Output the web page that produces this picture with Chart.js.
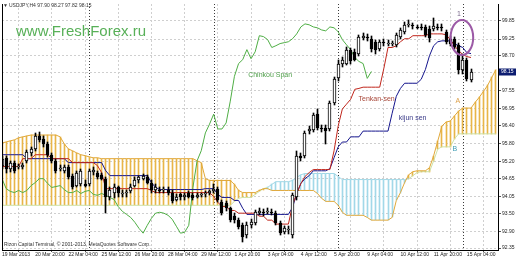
<!DOCTYPE html>
<html><head><meta charset="utf-8">
<script src="https://cdn.jsdelivr.net/npm/chart.js@4/dist/chart.umd.min.js"></script>
<style>html,body{margin:0;padding:0;background:#fff}#wrap{width:520px;height:260px}</style>
</head><body><div id="wrap"><canvas id="c" width="520" height="260"></canvas></div>
<script>
// ---- data (USDJPY, H4) ----
const timeLabels = ["19 Mar 2013","20 Mar 20:00","22 Mar 04:00","25 Mar 12:00","26 Mar 20:00","28 Mar 04:00","29 Mar 12:00","1 Apr 20:00","3 Apr 04:00","4 Apr 12:00","5 Apr 20:00","9 Apr 04:00","10 Apr 12:00","11 Apr 20:00","15 Apr 04:00"];
const timeLabelStep = 8; // bars between time labels
const priceTicks = [99.85,99.25,98.70,98.15,97.55,96.95,96.40,95.80,95.20,94.65,94.05,93.50,92.90,92.35];
const weekSeparators = [21,51,81,111];

const openP = [95.07,95.33,94.97,95.17,95.04,95.04,95.23,95.49,95.62,96.05,
 95.95,95.79,95.43,95.23,94.97,94.90,95.04,94.74,94.41,94.48,
 94.48,94.48,94.87,94.84,94.77,94.64,94.02,94.15,94.35,94.15,
 94.15,94.22,94.41,94.58,94.64,94.71,94.51,94.28,94.28,94.25,
 94.28,94.15,93.95,94.12,94.02,94.15,94.09,94.05,94.09,94.12,
 94.15,94.22,94.31,93.86,93.82,93.66,93.40,93.27,93.10,92.77,
 93.10,93.17,93.50,93.53,93.53,93.53,93.50,93.17,92.87,92.94,
 92.77,94.02,95.40,95.40,96.21,96.25,96.77,96.31,96.31,96.28,
 97.13,97.95,98.41,98.44,98.90,98.83,98.77,99.29,99.33,99.26,
 99.16,98.93,99.16,99.10,99.10,99.06,99.33,99.49,99.72,99.72,
 99.65,99.65,99.65,99.59,99.59,99.65,99.65,99.49,99.26,99.26,
 99.06,98.24,98.57,97.90];
const highP = [95.40,95.40,95.23,95.23,95.13,95.17,95.59,95.69,96.15,96.18,
 96.05,95.85,95.49,95.30,95.10,95.10,95.10,94.81,94.90,94.97,
 94.58,94.97,95.04,94.90,94.84,94.71,94.38,94.45,94.41,94.28,
 94.28,94.48,94.68,94.74,94.81,94.77,94.58,94.45,94.38,94.38,
 94.38,94.25,94.12,94.18,94.15,94.22,94.15,94.15,94.18,94.22,
 94.28,94.45,94.38,93.92,93.89,93.72,93.50,93.33,93.17,93.20,
 93.30,93.59,93.66,93.63,93.66,93.63,93.56,93.23,93.07,93.07,
 94.18,95.56,95.49,96.21,96.38,96.80,96.94,96.41,96.41,97.20,
 97.98,98.57,98.67,99.00,98.97,98.93,99.39,99.46,99.42,99.36,
 99.23,99.23,99.26,99.23,99.19,99.46,99.62,99.82,99.88,99.78,
 99.72,99.75,99.72,99.69,99.95,99.75,99.75,99.55,99.36,99.33,
 99.13,98.77,98.64,98.27];
const lowP = [94.97,94.84,94.87,94.84,94.97,94.97,95.17,95.40,95.56,95.85,
 95.69,95.36,95.17,94.84,94.90,94.84,94.64,94.31,94.35,94.41,
 94.35,94.41,94.77,94.64,94.58,93.50,93.92,93.99,94.05,94.05,
 94.05,94.15,94.35,94.51,94.58,94.45,94.18,94.18,94.15,94.15,
 94.09,93.82,93.89,93.95,93.95,93.99,93.92,93.99,94.02,94.05,
 94.09,94.15,93.86,93.43,93.56,93.20,93.17,92.97,92.55,92.68,
 93.00,93.10,93.43,93.40,93.46,93.43,93.10,92.77,92.81,92.81,
 92.68,93.95,95.23,95.33,96.12,96.18,96.25,96.18,95.79,96.21,
 97.07,97.85,98.31,98.38,98.44,98.51,98.70,99.23,99.19,98.83,
 98.74,98.87,99.03,99.03,99.03,99.00,99.26,99.42,99.65,99.59,
 99.59,99.55,99.33,99.16,99.52,99.55,99.52,99.10,99.03,98.93,
 98.11,98.11,97.85,97.82];
const closeP = [95.30,94.97,95.17,94.90,95.07,95.10,95.53,95.62,96.05,95.92,
 95.79,95.43,95.23,94.90,95.00,95.04,94.71,94.38,94.84,94.90,
 94.41,94.90,94.94,94.71,94.64,94.02,94.25,94.35,94.15,94.18,
 94.19,94.38,94.58,94.68,94.74,94.51,94.25,94.35,94.25,94.31,
 94.15,93.89,94.02,94.02,94.09,94.05,93.99,94.09,94.12,94.15,
 94.22,94.31,93.92,93.50,93.66,93.27,93.27,93.04,92.71,93.10,
 93.20,93.53,93.56,93.50,93.56,93.51,93.17,92.84,93.00,92.97,
 94.09,95.40,95.33,96.15,96.28,96.74,96.31,96.28,96.21,97.13,
 97.92,98.41,98.57,98.90,98.51,98.57,99.33,99.36,99.29,98.93,
 98.90,99.16,99.13,99.12,99.13,99.39,99.55,99.72,99.75,99.69,
 99.63,99.62,99.39,99.29,99.69,99.63,99.62,99.16,99.10,99.00,
 98.24,98.57,97.92,98.15];
const tenkan = [95.04,95.04,95.04,95.04,95.04,95.30,95.30,95.30,95.43,95.43,
 95.43,95.43,95.30,95.30,95.30,95.30,95.30,95.17,95.17,95.17,
 95.17,95.17,95.17,95.07,94.84,94.31,94.31,94.31,94.31,94.31,
 94.31,94.31,94.31,94.31,94.31,94.31,94.25,94.18,94.18,94.18,
 94.18,94.18,94.18,94.18,94.18,94.18,94.18,94.18,94.18,94.18,
 94.18,94.05,93.86,93.72,93.72,93.59,93.59,93.50,93.50,93.50,
 93.50,93.50,93.40,93.40,93.27,93.27,93.14,93.14,93.14,93.14,
 93.76,94.15,94.48,94.71,94.84,94.94,94.94,94.94,94.94,94.94,
 95.56,96.38,96.94,97.10,97.26,97.59,97.62,97.66,97.66,97.66,
 97.66,97.66,98.28,98.97,98.97,99.03,99.16,99.26,99.26,99.36,
 99.36,99.36,99.36,99.42,99.42,99.42,99.42,99.39,99.23,99.03,
 98.87,98.74,98.67,98.64];
const kijun = [95.43,95.43,95.43,95.43,95.43,95.43,95.30,95.30,95.30,95.30,
 95.30,95.30,95.30,95.30,95.30,95.30,95.17,95.17,95.17,95.17,
 95.17,95.17,95.17,95.17,95.17,94.90,94.74,94.74,94.74,94.74,
 94.74,94.74,94.74,94.74,94.74,94.74,94.51,94.35,94.28,94.28,
 94.28,94.28,94.28,94.28,94.28,94.28,94.28,94.28,94.28,94.31,
 94.31,94.31,94.12,94.02,94.02,94.02,93.92,93.92,93.66,93.46,
 93.46,93.46,93.46,93.46,93.46,93.46,93.46,93.46,93.46,93.46,
 93.69,94.15,94.48,94.64,94.74,94.90,94.90,94.90,94.90,94.97,
 95.33,95.69,95.85,95.85,96.02,96.02,96.02,96.21,96.21,96.21,
 96.21,96.21,96.21,96.21,96.80,97.36,97.62,97.79,97.79,97.79,
 97.79,97.92,98.24,98.70,99.03,99.16,99.19,99.19,99.19,99.10,
 99.03,98.97,98.80,98.77];
const chinkou = [94.64,94.31,94.22,94.18,94.25,94.18,94.25,94.41,94.51,94.64,
 94.64,94.48,94.35,94.38,94.41,94.28,94.18,94.18,94.25,94.15,
 94.22,94.25,94.12,94.09,94.15,94.09,94.02,93.95,93.72,93.56,
 93.46,93.36,93.20,93.00,92.84,93.10,93.33,93.50,93.53,93.50,
 93.43,93.30,93.07,92.84,92.87,93.10,94.35,95.23,95.56,96.15,
 96.44,96.77,96.28,96.28,96.48,97.20,98.02,98.44,98.57,98.90,
 98.60,98.83,99.36,99.33,99.23,98.97,99.03,99.10,99.13,99.16,
 99.26,99.42,99.65,99.75,99.72,99.65,99.62,99.55,99.52,99.65,
 99.62,99.49,99.23,99.06,98.90,98.64,98.51,98.44,97.95,98.18];
const spanA = [95.82,95.85,95.89,95.92,95.99,96.02,96.05,96.08,96.08,96.08,
 96.08,96.08,96.08,96.08,96.02,95.79,95.62,95.56,95.49,95.43,
 95.40,95.36,95.33,95.33,95.30,95.30,95.30,95.30,95.30,95.30,
 95.30,95.30,95.30,95.30,95.30,95.30,95.30,95.30,95.30,95.30,
 95.30,95.30,95.30,95.30,95.30,95.30,95.30,95.23,95.17,94.64,
 94.58,94.58,94.58,94.58,94.58,94.58,94.45,94.25,94.18,94.18,
 94.18,94.18,94.25,94.31,94.31,94.25,94.25,94.25,94.25,94.25,
 94.25,94.25,94.25,94.25,94.25,94.25,94.15,93.99,93.89,93.89,
 93.89,93.76,93.53,93.43,93.43,93.43,93.43,93.43,93.36,93.27,
 93.27,93.27,93.27,93.27,93.36,93.92,94.18,94.51,94.77,94.87,
 94.90,94.90,94.90,95.00,95.40,95.89,96.38,96.51,96.54,96.71,
 96.87,96.97,96.97,96.97,97.16,97.33,97.52,97.72,97.98,98.24];
const spanB = [93.76,93.76,93.76,93.76,93.76,93.76,93.76,93.76,93.76,93.76,
 93.76,93.76,93.76,93.76,93.76,93.76,93.76,93.76,93.76,93.76,
 93.76,93.76,93.76,93.76,93.76,93.76,93.76,93.76,93.76,93.76,
 93.76,93.76,93.76,93.76,93.76,93.76,93.76,93.76,93.76,93.76,
 93.76,93.76,93.76,93.76,93.76,93.76,93.76,93.76,93.76,93.76,
 93.76,93.76,93.76,93.76,93.76,93.76,93.89,93.99,94.02,94.02,
 94.02,94.12,94.22,94.31,94.35,94.45,94.54,94.54,94.54,94.54,
 94.58,94.68,94.77,94.81,94.81,94.81,94.81,94.81,94.81,94.81,
 94.81,94.71,94.61,94.61,94.61,94.61,94.61,94.61,94.61,94.61,
 94.61,94.61,94.61,94.61,94.61,94.61,94.61,94.61,94.64,94.74,
 94.84,94.87,94.87,94.87,95.23,95.62,95.69,95.69,95.69,95.95,
 96.12,96.12,96.12,96.12,96.12,96.12,96.12,96.12,96.12,96.12];

const symbolName = "USDJPY,H4";
const watermark = "www.FreshForex.ru";
const copyright = "Rizon Capital Terminal, \u00A9 2001-2013, MetaQuotes Software Corp.";
const notes = [
  {text:"Chinkou Span", bar:59.3, price:98.05, color:"#4f9f4a", align:"left"},
  {text:"Tenkan-sen", bar:85.9, price:97.26, color:"#a8483a", align:"left"},
  {text:"kijun sen", bar:95.6, price:96.64, color:"#3a3a88", align:"left"},
  {text:"A", bar:109.8, price:97.20, color:"#dca04a", align:"center"},
  {text:"B", bar:109.1, price:95.62, color:"#3c9cb4", align:"center"},
  {text:"1", bar:110.1, price:100.08, color:"#7a6a8c", align:"center"}
];
const circleMark = {bar:110.8, price:99.30};

// ---- chart ----
const FONT = '"Liberation Sans", Arial, sans-serif';
Chart.defaults.font.family = FONT;
const pts = arr => arr.map((v, i) => ({x: i, y: v}));
const rng = (a, b) => a.map((v, i) => ({x: i, y: [v, b[i]]}));
const HATCH_UP = '#e8b548', HATCH_DN = '#a2d8e8';

const snapBars = {
  id: 'snapBars',
  beforeDatasetsDraw(chart) {
    chart.data.datasets.forEach((ds, di) => {
      const meta = chart.getDatasetMeta(di);
      if (meta.type !== 'bar') return;
      meta.data.forEach(el => {
        el.x = Math.floor(el.x) + 0.5;
        const y = Math.round(el.y); let b = Math.round(el.base);
        if (Math.abs(y - b) < 1) b = y + 1;
        el.y = y; el.base = b;
      });
    });
  }
};

const overlay = {
  id: 'overlay',
  beforeDatasetsDraw(chart) {
    const {ctx, chartArea: a, scales: {x}} = chart;
    ctx.save();
    ctx.strokeStyle = '#3a3a3a'; ctx.lineWidth = 1; ctx.setLineDash([1, 2]);
    weekSeparators.forEach(b => {
      const px = Math.round(x.getPixelForValue(b)) + 0.5;
      ctx.beginPath(); ctx.moveTo(px, a.top); ctx.lineTo(px, a.bottom); ctx.stroke();
    });
    ctx.restore();
  },
  afterDraw(chart) {
    const {ctx, chartArea: a, scales: {x, y}} = chart;
    const last = closeP.length - 1;
    ctx.save();
    ctx.strokeStyle = '#000'; ctx.lineWidth = 1;
    ctx.beginPath(); ctx.moveTo(a.left + 0.5, a.top); ctx.lineTo(a.left + 0.5, a.bottom); ctx.stroke();
    // watermark
    ctx.textAlign = 'left'; ctx.textBaseline = 'alphabetic';
    ctx.font = '15px ' + FONT; ctx.fillStyle = '#58b058';
    ctx.fillText(watermark, 16, 36);
    // title
    ctx.font = '5px ' + FONT; ctx.fillStyle = '#333';
    ctx.textBaseline = 'middle';
    ctx.fillText('\u25BC', 3, 6);
    ctx.fillText(symbolName + ' ' + [openP[last], highP[last], lowP[last], closeP[last]].map(v => v.toFixed(2)).join(' '), 9, 6);
    ctx.fillText(copyright, 4, 245);
    // notes
    ctx.font = '7px ' + FONT;
    notes.forEach(n => {
      ctx.fillStyle = n.color; ctx.textAlign = n.align;
      ctx.fillText(n.text, x.getPixelForValue(n.bar), y.getPixelForValue(n.price));
    });
    // circle
    ctx.beginPath();
    ctx.ellipse(x.getPixelForValue(circleMark.bar), y.getPixelForValue(circleMark.price), 11.3, 17.5, 0, 0, Math.PI * 2);
    ctx.strokeStyle = '#9c5aa6'; ctx.lineWidth = 2; ctx.stroke();
    // current price box
    const py = Math.round(y.getPixelForValue(closeP[last]));
    ctx.fillStyle = '#0c1c70'; ctx.fillRect(a.right + 1, py - 3.5, 17, 7);
    ctx.fillStyle = '#fff'; ctx.font = '5px ' + FONT; ctx.textAlign = 'left';
    ctx.fillText(closeP[last].toFixed(2), a.right + 3, py);
    ctx.restore();
  }
};

new Chart(document.getElementById('c'), {
  type: 'line',
  data: {
    datasets: [
      {type: 'bar', data: rng(spanA, spanB), backgroundColor: spanA.map((v, i) => v >= spanB[i] ? HATCH_UP : HATCH_DN),
       barThickness: 1, grouped: false, borderWidth: 0, order: 10},
      {type: 'line', data: pts(spanB), borderWidth: 1, pointRadius: 0, order: 9, borderColor: '#a8dce6',
       segment: {borderColor: c => spanA[c.p0DataIndex] >= spanB[c.p0DataIndex] ? '#cde2a6' : '#a2d8e6'}},
      {type: 'line', data: pts(spanA), borderColor: '#e0a83a', borderWidth: 1, pointRadius: 0, order: 8},
      {type: 'line', data: pts(chinkou), borderColor: '#4fae45', borderWidth: 1, pointRadius: 0, order: 7},
      {type: 'line', data: pts(kijun), borderColor: '#14148c', borderWidth: 1, pointRadius: 0, order: 6},
      {type: 'line', data: pts(tenkan), borderColor: '#c0261c', borderWidth: 1, pointRadius: 0, order: 5},
      {type: 'bar', data: rng(lowP, highP), backgroundColor: '#000', barThickness: 1, grouped: false, borderWidth: 0, order: 2},
      {type: 'bar', data: rng(openP, closeP), backgroundColor: openP.map((o, i) => closeP[i] >= o ? '#fff' : '#000'),
       borderColor: '#000', borderWidth: 1, borderSkipped: false, barThickness: 3, grouped: false, order: 1}
    ]
  },
  options: {
    responsive: false, animation: false, devicePixelRatio: 1, events: [],
    layout: {padding: {left: 2, top: 2, right: 0, bottom: 0}},
    plugins: {legend: {display: false}, tooltip: {enabled: false}},
    scales: {
      x: {
        type: 'linear', min: 0, max: 119.5, offset: false,
        afterBuildTicks: s => { s.ticks = timeLabels.map((_, k) => ({value: k * timeLabelStep})); },
        afterFit: s => { s.height = 10; },
        ticks: {autoSkip: false, maxRotation: 0, minRotation: 0, align: 'start', padding: 0,
                font: {size: 5}, color: '#222', callback: (v, i) => timeLabels[i]},
        grid: {color: '#cfcfcf', tickLength: 2, tickColor: '#555'},
        border: {display: true, color: '#000', dash: [2, 2]}
      },
      y: {
        type: 'linear', position: 'right', min: 92.2845, max: 100.4065,
        afterBuildTicks: s => { s.ticks = priceTicks.map(v => ({value: v})); },
        afterFit: s => { s.width = 22; },
        ticks: {padding: 1, font: {size: 5}, color: '#222', callback: v => Number(v).toFixed(2)},
        grid: {color: '#cfcfcf', tickLength: 3, tickColor: '#555'},
        border: {display: true, color: '#000', dash: [2, 2]}
      }
    }
  },
  plugins: [snapBars, overlay]
});
</script>
</body></html>
